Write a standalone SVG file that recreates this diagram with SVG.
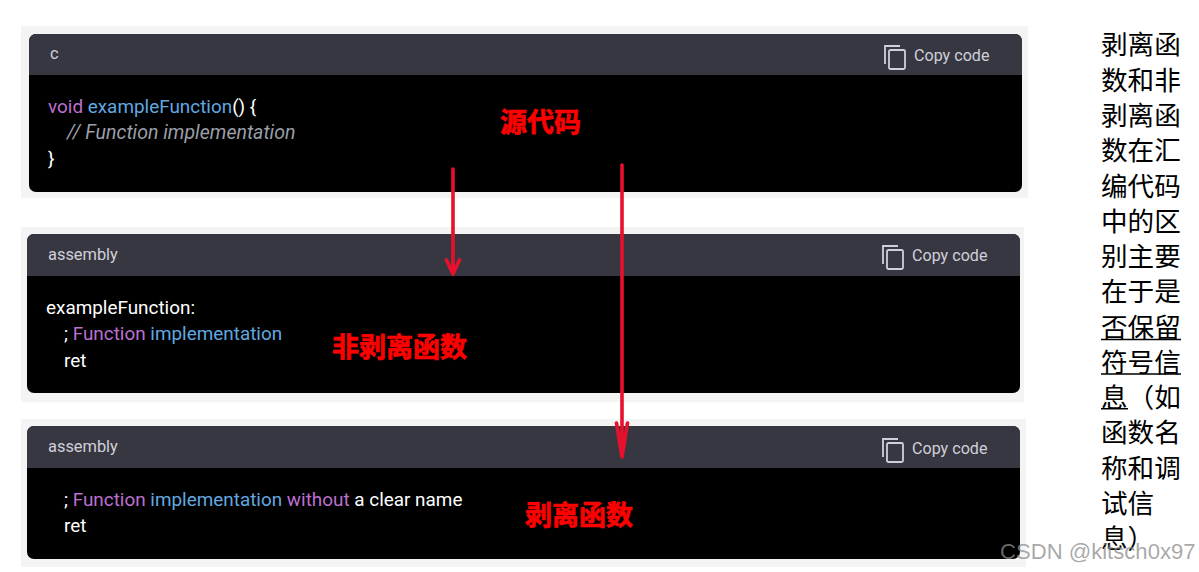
<svg xmlns="http://www.w3.org/2000/svg" width="1199" height="572" viewBox="0 0 1199 572">
<style>
.panel{fill:#f4f4f4}
.body{fill:#000}
.head{fill:#373741}
.lang{font:16.4px Roboto,"Liberation Sans",sans-serif;fill:#d0d0da}
.copy{font:16.1px Roboto,"Liberation Sans",sans-serif;fill:#d0d0da}
.code{font:18.9px Roboto,"Liberation Sans",sans-serif;fill:#fff}
.pur{fill:#bb6fd0}
.blu{fill:#61a8e0}
.com{fill:#9a9fa8;font-style:italic;font-size:19.55px}
.lab{font:700 27px "Noto Sans CJK SC",sans-serif;fill:#f00;stroke:#f00;stroke-width:.7}
.side{font:26.6px "Noto Sans CJK SC",sans-serif;fill:#000}
.ul{stroke:#000;stroke-width:1.5}
.conn{fill:none;stroke:#e8112d;stroke-width:3.6;stroke-linecap:round;stroke-linejoin:round}
.ico{fill:none;stroke:#d0d0da;stroke-width:1.8}
.wm{font:22.1px "Liberation Sans",sans-serif;fill:#8c8c8c;fill-opacity:.75}
</style>
<defs>
<g id="copyIcon"><path class="ico" d="M0 19V1H15"/><rect class="ico" x="4" y="5" width="16" height="19" rx="1.5"/></g>
</defs>

<g id="node-source">
<rect class="panel" x="21" y="26" width="1007" height="172"/>
<rect class="body" x="29" y="34" width="993" height="158" rx="7"/>
<path class="head" d="M29 75V41a7 7 0 0 1 7-7H1015a7 7 0 0 1 7 7V75Z"/>
<text class="lang" x="50" y="59">c</text>
<use href="#copyIcon" x="885" y="45"/>
<text class="copy" x="914" y="61">Copy code</text>
<text class="code" x="48" y="113"><tspan class="pur">void</tspan> <tspan class="blu">exampleFunction</tspan>() {</text>
<text class="code com" x="67" y="139">// Function implementation</text>
<text class="code" x="48" y="165">}</text>
</g>

<g id="node-unstripped">
<rect class="panel" x="21" y="227" width="1003" height="175"/>
<rect class="body" x="27" y="234" width="993" height="159" rx="7"/>
<path class="head" d="M27 276V241a7 7 0 0 1 7-7H1013a7 7 0 0 1 7 7V276Z"/>
<text class="lang" x="48" y="260">assembly</text>
<use href="#copyIcon" x="883" y="245"/>
<text class="copy" x="912" y="261">Copy code</text>
<text class="code" x="46" y="314">exampleFunction:</text>
<text class="code" x="64" y="340">; <tspan class="pur">Function</tspan> <tspan class="blu">implementation</tspan></text>
<text class="code" x="64" y="367">ret</text>
</g>

<g id="node-stripped">
<rect class="panel" x="21" y="419" width="1005" height="148"/>
<rect class="body" x="27" y="426" width="993" height="133" rx="7"/>
<path class="head" d="M27 468V433a7 7 0 0 1 7-7H1013a7 7 0 0 1 7 7V468Z"/>
<text class="lang" x="48" y="452">assembly</text>
<use href="#copyIcon" x="883" y="438"/>
<text class="copy" x="912" y="454">Copy code</text>
<text class="code" x="64" y="506">; <tspan class="pur">Function</tspan> <tspan class="blu">implementation</tspan> <tspan class="pur">without</tspan> a clear name</text>
<text class="code" x="64" y="532">ret</text>
</g>

<g id="connectors">
<path class="conn" d="M453 169V274M446.500 260L453 274L459.500 260"/>
<path class="conn" d="M622 165V457M616.500 423L622 457L627.500 423"/>
</g>

<g id="labels">
<text class="lab" x="500" y="132">源代码</text>
<text class="lab" x="332" y="357">非剥离函数</text>
<text class="lab" x="525" y="525">剥离函数</text>
</g>

<g id="side-note">
<text class="side"><tspan x="1101" y="54">剥离函</tspan><tspan x="1101" y="90">数和非</tspan><tspan x="1101" y="125">剥离函</tspan><tspan x="1101" y="160">数在汇</tspan><tspan x="1101" y="196">编代码</tspan><tspan x="1101" y="231">中的区</tspan><tspan x="1101" y="266">别主要</tspan><tspan x="1101" y="301">在于是</tspan><tspan x="1101" y="337">否保留</tspan><tspan x="1101" y="372">符号信</tspan><tspan x="1101" y="407">息（如</tspan><tspan x="1101" y="442">函数名</tspan><tspan x="1101" y="478">称和调</tspan><tspan x="1101" y="513">试信</tspan><tspan x="1101" y="548">息）</tspan></text>
<path class="ul" d="M1101 339.500H1181M1101 374H1181M1101 408.700H1128"/>
</g>

<text class="wm" x="1000" y="559">CSDN @kitsch0x97</text>
</svg>
